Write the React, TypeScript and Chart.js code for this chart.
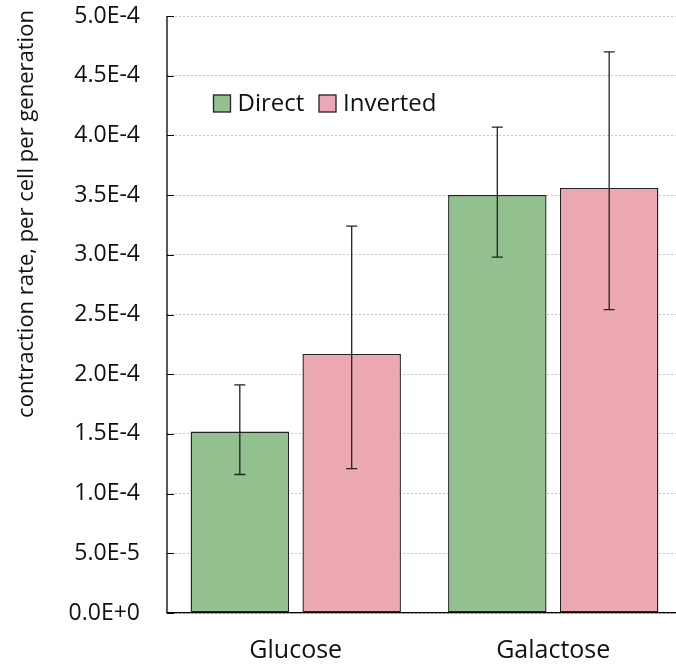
import React, { useEffect, useRef } from "react";
import { Chart, registerables } from "chart.js";

Chart.register(...registerables);

const categories = ["Glucose", "Galactose"];
const seriesNames = ["Direct", "Inverted"];
const directValues = [1.52e-4, 3.5e-4];
const invertedValues = [2.17e-4, 3.56e-4];
const directErrLow = [1.16e-4, 2.98e-4];
const directErrHigh = [1.91e-4, 4.07e-4];
const invertedErrLow = [1.21e-4, 2.54e-4];
const invertedErrHigh = [3.24e-4, 4.7e-4];
const yMin = 0;
const yMax = 5e-4;
const yStep = 5e-5;
const yTitle = "contraction rate, per cell per generation";

const GREEN = "#92C08F";
const PINK = "#ECA8B2";
const EDGE = "#222";
const FONT = "'Open Sans', sans-serif";

const errorBars = {
  id: "errorBars",
  afterDatasetsDraw(chart: any) {
    const ctx = chart.ctx;
    const yScale = chart.scales.y;
    const errs = [
      [directErrLow, directErrHigh],
      [invertedErrLow, invertedErrHigh],
    ];
    ctx.save();
    ctx.strokeStyle = "#222";
    ctx.lineWidth = 1.3;
    chart.data.datasets.forEach((ds: any, di: number) => {
      const meta = chart.getDatasetMeta(di);
      meta.data.forEach((el: any, i: number) => {
        const x = el.x;
        const yl = yScale.getPixelForValue(errs[di][0][i]);
        const yh = yScale.getPixelForValue(errs[di][1][i]);
        const cap = 5.5;
        ctx.beginPath();
        ctx.moveTo(x, yl);
        ctx.lineTo(x, yh);
        ctx.moveTo(x - cap, yl);
        ctx.lineTo(x + cap, yl);
        ctx.moveTo(x - cap, yh);
        ctx.lineTo(x + cap, yh);
        ctx.stroke();
      });
    });
    ctx.restore();
  },
};

const decorations = {
  id: "decorations",
  afterDraw(chart: any) {
    const ctx = chart.ctx;
    const area = chart.chartArea;
    const yScale = chart.scales.y;
    ctx.save();
    // y axis line and inward tick marks
    ctx.strokeStyle = "#000";
    ctx.lineWidth = 1.3;
    ctx.beginPath();
    ctx.moveTo(area.left, area.top);
    ctx.lineTo(area.left, area.bottom);
    ctx.stroke();
    ctx.lineWidth = 1;
    yScale.ticks.forEach((_t: any, i: number) => {
      const y = Math.round(yScale.getPixelForTick(i)) + 0.5;
      ctx.beginPath();
      ctx.moveTo(area.left, y);
      ctx.lineTo(area.left + 7, y);
      ctx.stroke();
    });
    // y title
    ctx.fillStyle = "#111";
    ctx.font = `22px ${FONT}`;
    ctx.textAlign = "center";
    ctx.textBaseline = "middle";
    ctx.translate(27, 214);
    ctx.rotate(-Math.PI / 2);
    ctx.fillText(yTitle, 0, 0);
    ctx.restore();

    // legend
    ctx.save();
    const colors = [GREEN, PINK];
    const boxX = [213.5, 319];
    const boxY = 95;
    const box = 17;
    ctx.font = `24px ${FONT}`;
    ctx.textAlign = "left";
    ctx.textBaseline = "alphabetic";
    seriesNames.forEach((name, i) => {
      ctx.fillStyle = colors[i];
      ctx.fillRect(boxX[i], boxY, box, box);
      ctx.strokeStyle = EDGE;
      ctx.lineWidth = 1.3;
      ctx.strokeRect(boxX[i], boxY, box, box);
      ctx.fillStyle = "#111";
      ctx.fillText(name, boxX[i] + box + 7, 111);
    });
    ctx.restore();
  },
};

export default function App() {
  const canvasRef = useRef<HTMLCanvasElement | null>(null);

  useEffect(() => {
    const canvas = canvasRef.current;
    if (!canvas) return;
    const chart = new Chart(canvas, {
      type: "bar",
      data: {
        labels: categories,
        datasets: [
          {
            label: seriesNames[0],
            data: directValues,
            backgroundColor: GREEN,
            borderColor: EDGE,
            borderWidth: 1.4,
            borderSkipped: false,
            categoryPercentage: 0.869,
            barPercentage: 0.88,
          },
          {
            label: seriesNames[1],
            data: invertedValues,
            backgroundColor: PINK,
            borderColor: EDGE,
            borderWidth: 1.4,
            borderSkipped: false,
            categoryPercentage: 0.869,
            barPercentage: 0.88,
          },
        ],
      },
      options: {
        animation: false,
        responsive: false,
        maintainAspectRatio: false,
        layout: { padding: { left: 0, top: 16, right: 8, bottom: 0 } },
        plugins: {
          legend: { display: false },
          tooltip: { enabled: false },
          title: { display: false },
        },
        scales: {
          x: {
            grid: { display: false, drawTicks: false },
            border: { display: true, color: "#000", width: 1.3 },
            ticks: {
              color: "#111",
              font: { family: FONT, size: 25 },
              padding: 23,
              maxRotation: 0,
            },
            afterFit: (scale: any) => {
              scale.height = 54;
              scale.paddingLeft = 0;
              scale.paddingRight = 0;
            },
          },
          y: {
            min: yMin,
            max: yMax,
            grid: {
              color: "#c4c4c4",
              lineWidth: 1,
              drawTicks: false,
            },
            border: { display: false, dash: [2, 2] } as any,
            ticks: {
              stepSize: yStep,
              color: "#111",
              font: { family: FONT, size: 23 },
              padding: 27,
              callback: (v: any) => Number(v).toExponential(1).toUpperCase(),
            },
            afterFit: (scale: any) => {
              scale.width = 167;
              scale.paddingTop = 0;
              scale.paddingBottom = 0;
            },
          },
        },
      },
      plugins: [errorBars, decorations],
    });
    return () => chart.destroy();
  }, []);

  return (
    <div
      style={{
        position: "absolute",
        left: 0,
        top: 0,
        width: 676,
        height: 667,
        overflow: "hidden",
        background: "#fff",
      }}
    >
      <canvas ref={canvasRef} width={690} height={667} style={{ width: 690, height: 667, display: "block" }} />
    </div>
  );
}
